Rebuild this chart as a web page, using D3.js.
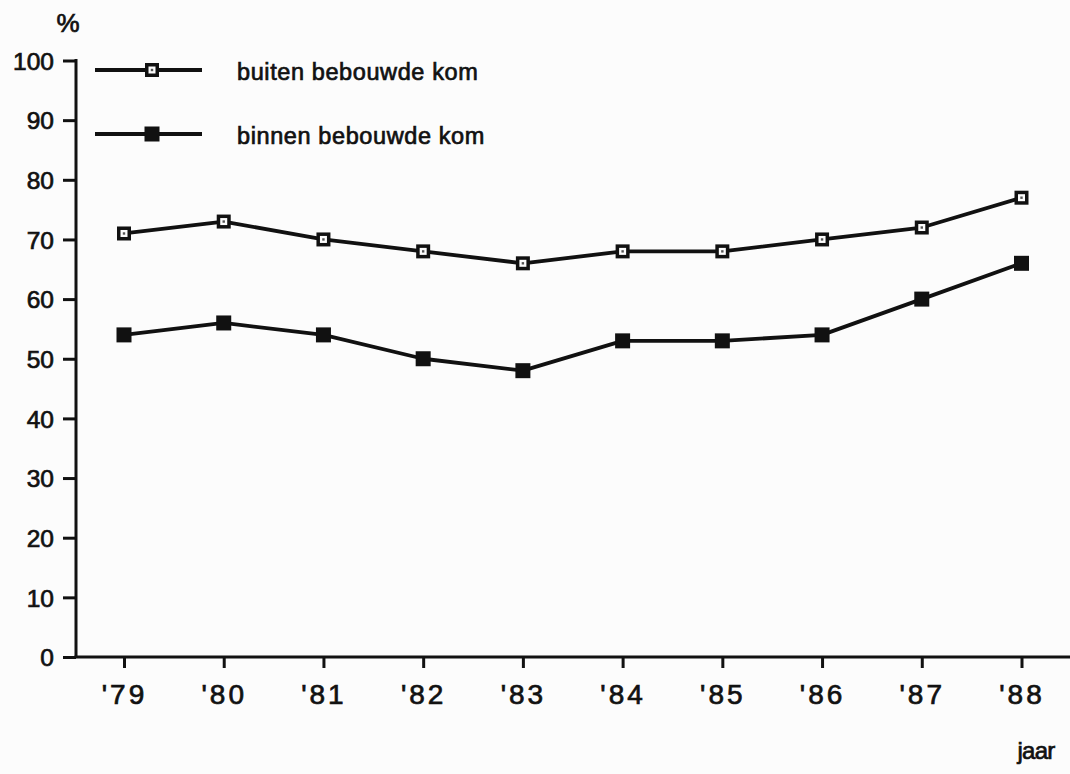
<!DOCTYPE html>
<html>
<head>
<meta charset="utf-8">
<script src="https://cdn.jsdelivr.net/npm/d3@7"></script>
<style>
  html, body { margin: 0; padding: 0; background: #fcfcfc; }
  svg { display: block; }
  text { font-family: "Liberation Sans", Arial, Helvetica, sans-serif; fill: #111; stroke: #111; stroke-width: 0.7px; }
</style>
</head>
<body>
<svg id="chart" width="1070" height="774"></svg>
<script>
// ---- data ----
const years = ["'79", "'80", "'81", "'82", "'83", "'84", "'85", "'86", "'87", "'88"];
const buiten = [71, 73, 70, 68, 66, 68, 68, 70, 72, 77];
const binnen = [54, 56, 54, 50, 48, 53, 53, 54, 60, 66];
const yTicks = [0, 10, 20, 30, 40, 50, 60, 70, 80, 90, 100];
const seriesNames = ["buiten bebouwde kom", "binnen bebouwde kom"];

// ---- layout ----
const W = 1070, H = 774;
const axisX = 76, axisY = 657;
const svg = d3.select("#chart");
svg.append("rect").attr("width", W).attr("height", H).attr("fill", "#fcfcfc");

const x = d3.scalePoint().domain(years).range([124, 1021.5]);
const y = d3.scaleLinear().domain([0, 100]).range([axisY, 60.5]);

const ink = "#111";

// y axis
const yAxis = svg.append("g").attr("transform", `translate(${axisX},0)`)
  .call(d3.axisLeft(y).tickValues(yTicks).tickSize(13).tickPadding(9).tickFormat(d3.format("d")));
yAxis.select(".domain").remove();
yAxis.selectAll(".tick line").attr("stroke", ink).attr("stroke-width", 3);
yAxis.selectAll(".tick text").attr("font-size", 24.5).attr("fill", ink).attr("dy", "0.36em")
  .attr("font-family", "Liberation Sans, Arial, sans-serif");
svg.append("line").attr("x1", axisX).attr("x2", axisX).attr("y1", y(100) - 1.5).attr("y2", axisY)
  .attr("stroke", ink).attr("stroke-width", 3);

// x axis
const xAxis = svg.append("g").attr("transform", `translate(0,${axisY})`)
  .call(d3.axisBottom(x).tickSize(11).tickPadding(16));
xAxis.select(".domain").remove();
xAxis.selectAll(".tick line").attr("stroke", ink).attr("stroke-width", 3);
xAxis.selectAll(".tick text").attr("font-size", 28).attr("fill", ink)
  .attr("letter-spacing", "3px")
  .attr("font-family", "Liberation Sans, Arial, sans-serif");
svg.append("line").attr("x1", axisX - 1.5).attr("x2", W).attr("y1", axisY).attr("y2", axisY)
  .attr("stroke", ink).attr("stroke-width", 3);

// axis titles
svg.append("text").attr("x", 68).attr("y", 32).attr("text-anchor", "middle")
  .attr("font-size", 26).text("%");
svg.append("text").attr("x", 1036).attr("y", 759).attr("text-anchor", "middle")
  .attr("font-size", 24).attr("letter-spacing", "-0.8px").text("jaar");

// lines
const line = d3.line().x((d, i) => x(years[i])).y(d => y(d));
function drawSeries(vals, hollow) {
  svg.append("path").datum(vals).attr("d", line)
    .attr("fill", "none").attr("stroke", ink).attr("stroke-width", 3.8)
    .attr("stroke-linejoin", "round");
  const g = svg.append("g");
  vals.forEach((v, i) => drawMarker(g, x(years[i]), y(v), hollow));
}
function drawMarker(g, cx, cy, hollow) {
  const s = hollow ? 14 : 15;
  g.append("rect").attr("x", cx - s / 2).attr("y", cy - s / 2).attr("width", s).attr("height", s)
    .attr("fill", ink);
  if (hollow) {
    g.append("rect").attr("x", cx - 3.5).attr("y", cy - 3.5).attr("width", 7).attr("height", 7)
      .attr("fill", "#fcfcfc");
    g.append("rect").attr("x", cx - 1.2).attr("y", cy - 1.2).attr("width", 2.4).attr("height", 2.4)
      .attr("fill", "#555");
  }
}
drawSeries(buiten, true);
drawSeries(binnen, false);

// legend
const legendRows = [{ name: seriesNames[0], hollow: true, y: 70 }, { name: seriesNames[1], hollow: false, y: 134 }];
legendRows.forEach(r => {
  svg.append("line").attr("x1", 95).attr("x2", 202).attr("y1", r.y).attr("y2", r.y)
    .attr("stroke", ink).attr("stroke-width", 3.8);
  drawMarker(svg, 152, r.y, r.hollow);
  svg.append("text").attr("x", 237).attr("y", r.y + 10).attr("font-size", 23.5)
    .attr("letter-spacing", "0.6px").text(r.name);
});
</script>
</body>
</html>
